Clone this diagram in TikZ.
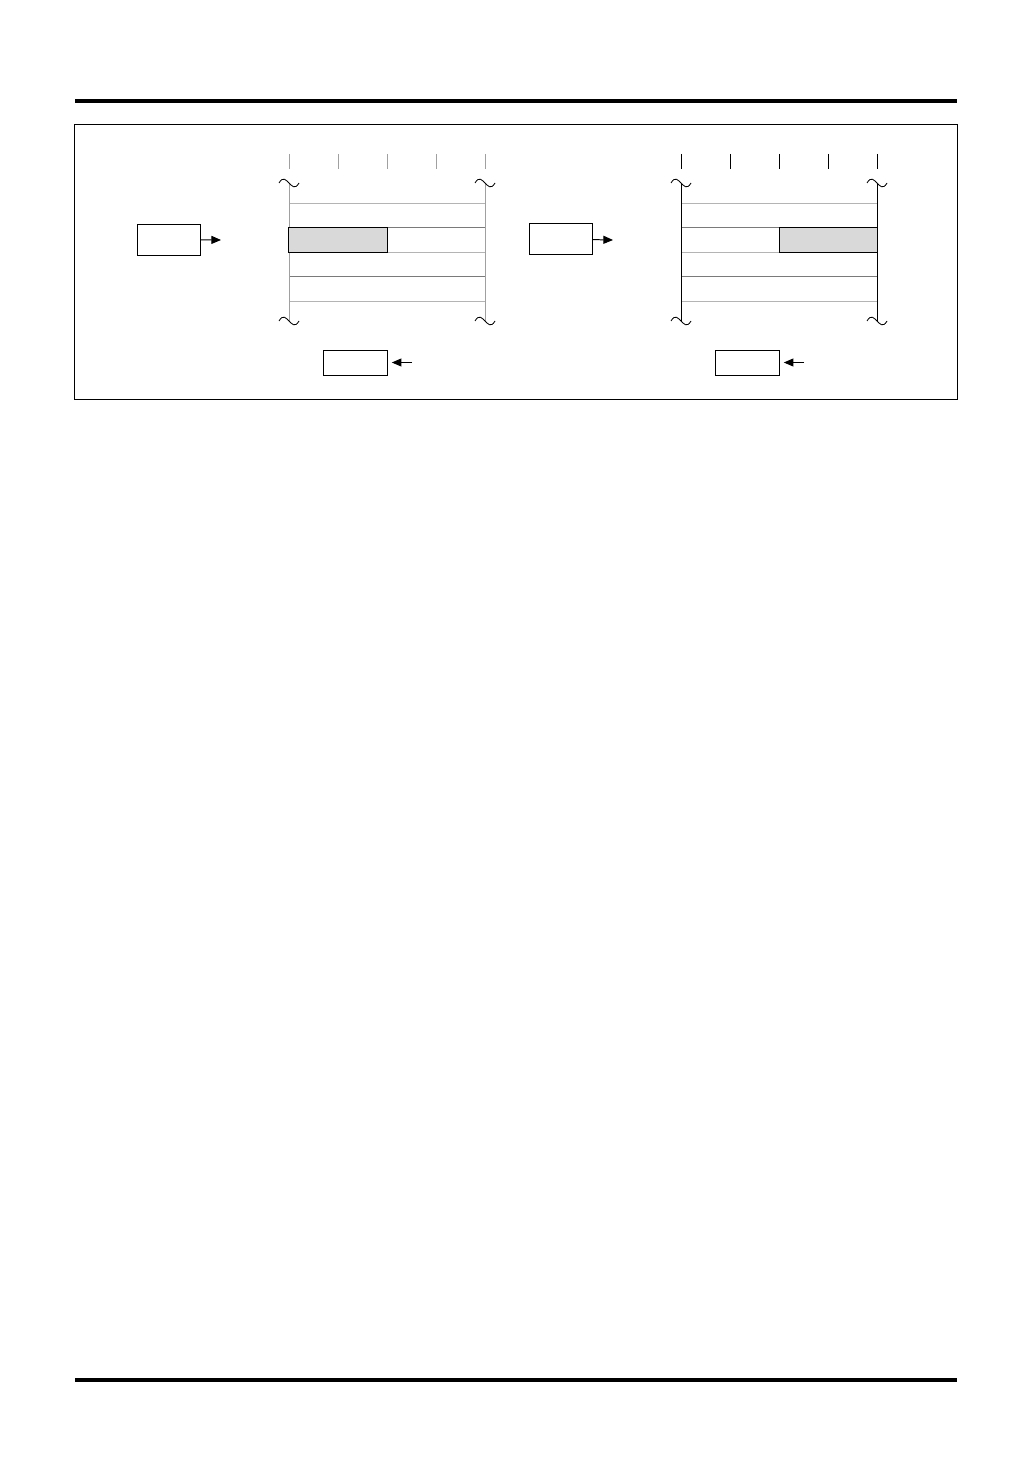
\documentclass[tikz,border=0pt]{standalone}
\usetikzlibrary{arrows.meta}
\definecolor{lightline}{HTML}{B4B4B4}
\definecolor{darkline}{HTML}{7A7A7A}
\definecolor{colgray}{HTML}{A0A0A0}
\definecolor{cellfill}{HTML}{D9D9D9}
\begin{document}
\begin{tikzpicture}[x=0.025cm,y=-0.025cm]
\tikzset{regbox/.style={draw, line width=0.7pt, inner sep=0pt, outer sep=0pt, minimum width=1.575cm, minimum height=0.775cm},
  outbox/.style={draw, line width=0.7pt, inner sep=0pt, outer sep=0pt, minimum width=1.6cm, minimum height=0.625cm},
  cellbox/.style={draw, fill=cellfill, line width=0.7pt, inner sep=0pt, outer sep=0pt, minimum width=2.45cm, minimum height=0.625cm},
  flow/.style={line width=0.7pt, -{Triangle[length=0.24cm, width=0.2cm]}},
  wave/.style={line width=0.6pt}}
\useasboundingbox (0,0) rectangle (1032,1458);
\draw[line width=2.2pt] (75,101) -- (957,101);
\draw[line width=2.6pt] (75,1380) -- (957,1380);
\draw[line width=0.7pt] (74,124) rectangle (957,399);
% left memory
\foreach \i in {0,...,4}
  \draw[colgray, line width=0.7pt] (289+49*\i,154) -- (289+49*\i,169);
\foreach \y/\c in {203/lightline, 227/darkline, 252/lightline, 276/darkline, 301/lightline}
  \draw[\c, line width=0.7pt] (289,\y) -- (485,\y);
\draw[colgray, line width=0.7pt] (289,183) -- (289,321);
\draw[colgray, line width=0.7pt] (485,183) -- (485,321);
\node[cellbox] (cellL) at (338,239.5) {};
\node[regbox] (inL) at (168.5,239.5) {};
\coordinate (inLtip) at (221,240);
\draw[flow] (inL) -- (inLtip);
\node[outbox] (outL) at (355,362.5) {};
\coordinate (outLsrc) at (412,362.5);
\draw[flow, shorten >=0.12cm] (outLsrc) -- (outL);
% right memory
\foreach \i in {0,...,4}
  \draw[line width=0.7pt] (681+49*\i,154) -- (681+49*\i,169);
\foreach \y/\c in {203/lightline, 227/darkline, 252/lightline, 276/darkline, 301/lightline}
  \draw[\c, line width=0.7pt] (681,\y) -- (877,\y);
\draw[line width=0.7pt] (681,183) -- (681,321);
\draw[line width=0.7pt] (877,183) -- (877,321);
\node[cellbox] (cellR) at (828,239.5) {};
\node[regbox] (inR) at (560.5,239) {};
\coordinate (inRtip) at (613,240);
\draw[flow] (inR) -- (inRtip);
\node[outbox] (outR) at (747,362.5) {};
\coordinate (outRsrc) at (804,362.5);
\draw[flow, shorten >=0.12cm] (outRsrc) -- (outR);
% breaks
\foreach \x/\y in {289/183, 485/183, 289/321, 485/321, 681/183, 877/183, 681/321, 877/321}
  \draw[wave] (\x-10,\y) .. controls (\x-6,\y-7) and (\x-3,\y-3) .. (\x,\y)
    .. controls (\x+3,\y+3) and (\x+6,\y+7) .. (\x+10,\y);
\end{tikzpicture}
\end{document}
